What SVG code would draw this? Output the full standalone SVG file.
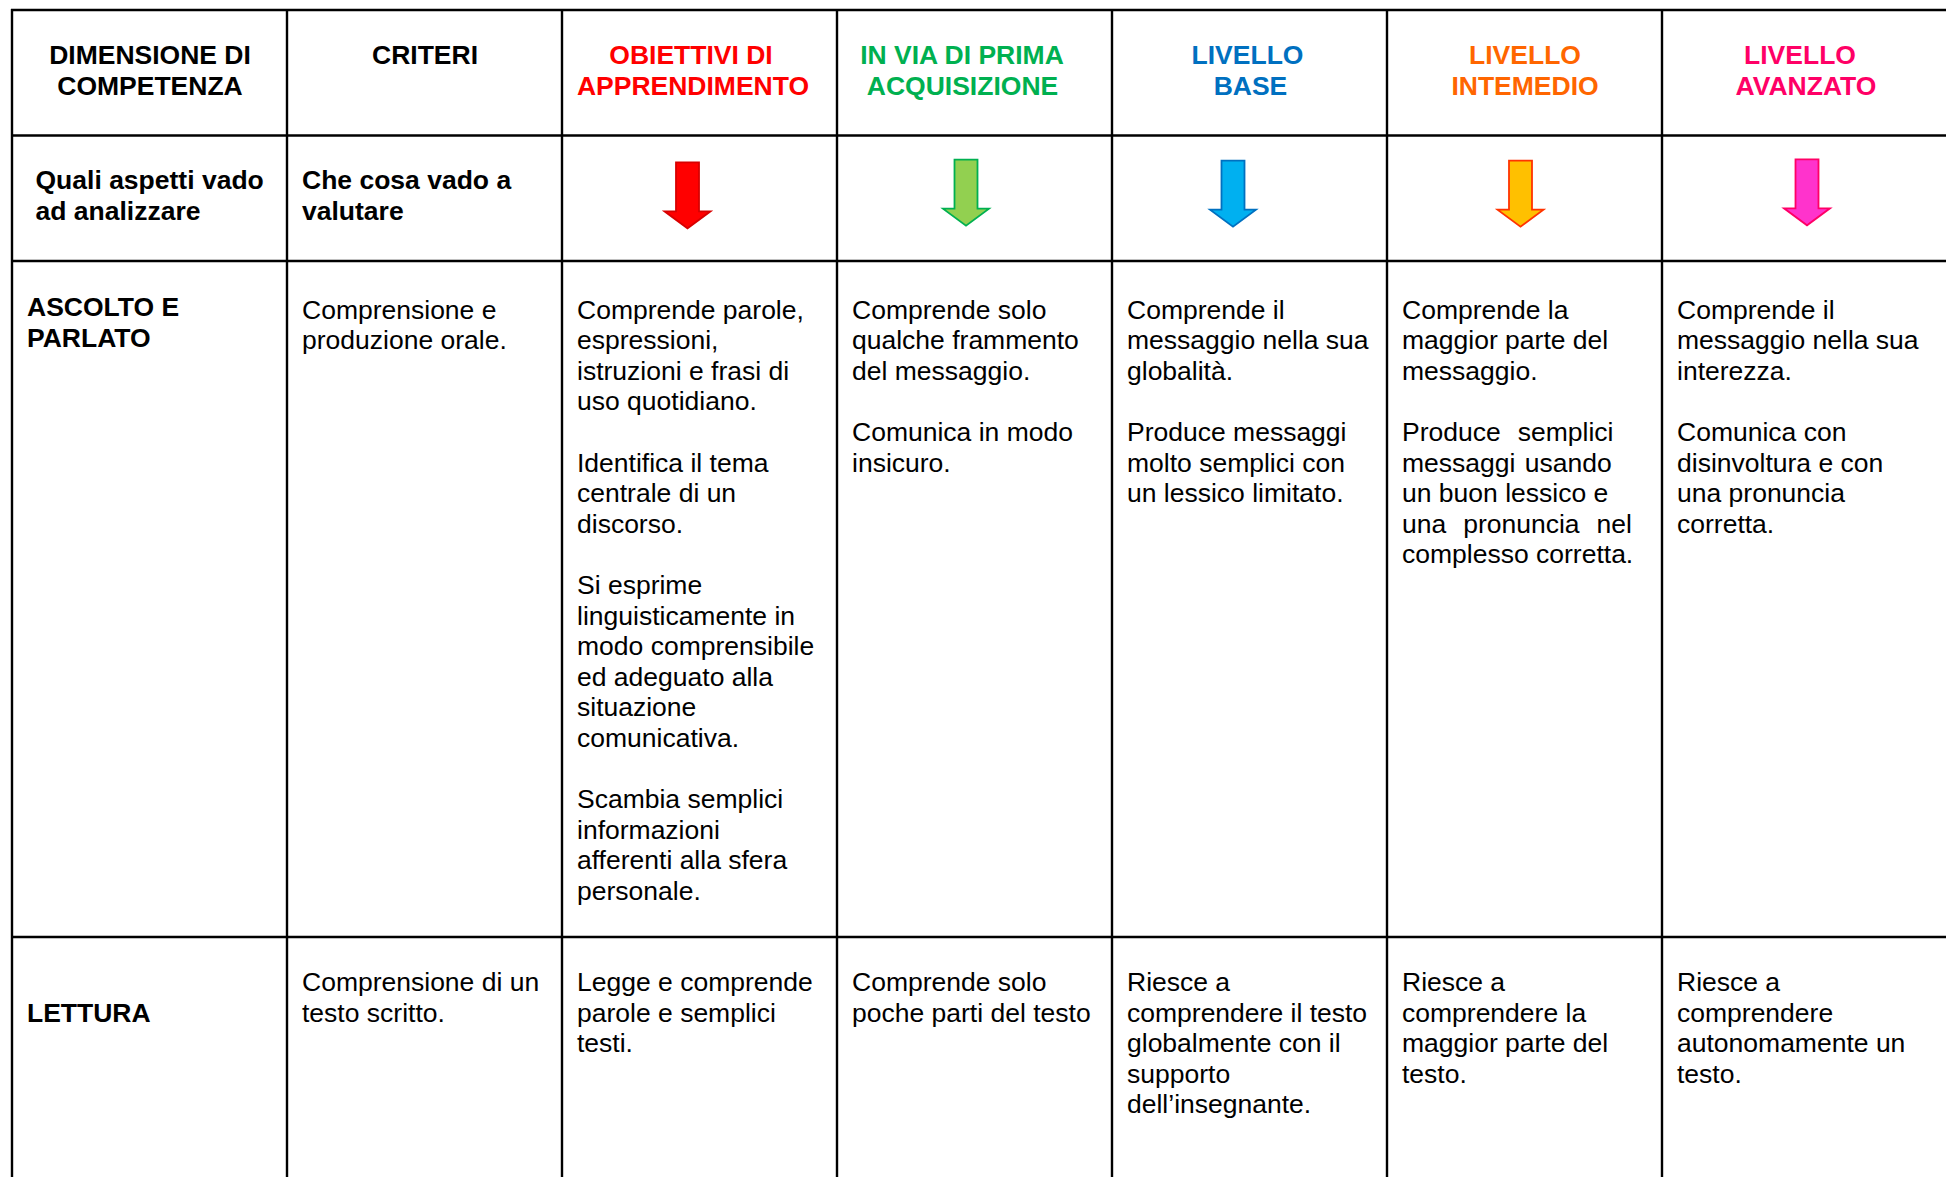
<svg xmlns="http://www.w3.org/2000/svg" width="1946" height="1177" viewBox="0 0 1946 1177">
<style>
text{font-family:"Liberation Sans",Arial,sans-serif;font-size:26.5px;fill:#000}
.b{font-weight:bold}
.h{font-weight:bold;text-anchor:middle}
.grid line{stroke:#000;stroke-width:2.4}
.red{fill:#FF0000}.grn{fill:#00B050}.blu{fill:#0070C0}.org{fill:#FF6600}.pnk{fill:#FF0066}
</style>
<defs>
<path id="arr" d="M-11.5 0H11.5V49H23L0 66L-23 49H-11.5Z" stroke-width="1.8" stroke-linejoin="miter"/>
</defs>
<rect width="1946" height="1177" fill="#fff"/>
<g id="grid" class="grid">
<line x1="11" y1="10" x2="1946" y2="10"/>
<line x1="11" y1="135.5" x2="1946" y2="135.5"/>
<line x1="11" y1="261" x2="1946" y2="261"/>
<line x1="11" y1="937" x2="1946" y2="937"/>
<line x1="12" y1="9" x2="12" y2="1177"/>
<line x1="287" y1="9" x2="287" y2="1177"/>
<line x1="562" y1="9" x2="562" y2="1177"/>
<line x1="837" y1="9" x2="837" y2="1177"/>
<line x1="1112" y1="9" x2="1112" y2="1177"/>
<line x1="1387" y1="9" x2="1387" y2="1177"/>
<line x1="1662" y1="9" x2="1662" y2="1177"/>
</g>
<g id="h-dimensione"><text class="h" x="150" y="64">DIMENSIONE DI</text><text class="h" x="150" y="95">COMPETENZA</text></g>
<g id="h-criteri"><text class="h" x="425" y="64">CRITERI</text></g>
<g id="h-obiettivi"><text class="h red" x="691" y="64">OBIETTIVI DI</text><text class="h red" x="693" y="95">APPRENDIMENTO</text></g>
<g id="h-prima"><text class="h grn" x="962" y="64">IN VIA DI PRIMA</text><text class="h grn" x="962.5" y="95">ACQUISIZIONE</text></g>
<g id="h-base"><text class="h blu" x="1247.5" y="64">LIVELLO</text><text class="h blu" x="1250.5" y="95">BASE</text></g>
<g id="h-intermedio"><text class="h org" x="1525" y="64">LIVELLO</text><text class="h org" x="1525" y="95">INTEMEDIO</text></g>
<g id="h-avanzato"><text class="h pnk" x="1800" y="64">LIVELLO</text><text class="h pnk" x="1806" y="95">AVANZATO</text></g>

<g id="r2-aspetti"><text class="b" x="35.5" y="189">Quali aspetti vado</text><text class="b" x="35.5" y="220">ad analizzare</text></g>
<g id="r2-valutare"><text class="b" x="302" y="189">Che cosa vado a</text><text class="b" x="302" y="220">valutare</text></g>
<g id="arrow-red"><use href="#arr" transform="translate(687.5,162.3)" fill="#FF0000" stroke="#D80000"/></g>
<g id="arrow-green"><use href="#arr" transform="translate(966,159.6)" fill="#92D050" stroke="#00B050"/></g>
<g id="arrow-blue"><use href="#arr" transform="translate(1233,160.7)" fill="#00B0F0" stroke="#0070C0"/></g>
<g id="arrow-orange"><use href="#arr" transform="translate(1520.5,160.7)" fill="#FFC000" stroke="#FF3300"/></g>
<g id="arrow-pink"><use href="#arr" transform="translate(1807,159.3)" fill="#FF33CC" stroke="#FF0066"/></g>

<g id="r3-dimensione"><text class="b" x="27" y="316">ASCOLTO E</text><text class="b" x="27" y="346.6">PARLATO</text></g>
<g transform="translate(0,2.5)">
<g id="r3-criteri"><text x="302" y="316">Comprensione e</text><text x="302" y="346.6">produzione orale.</text></g>
<g id="r3-obiettivi">
<text x="577" y="316">Comprende parole,</text>
<text x="577" y="346.6">espressioni,</text>
<text x="577" y="377.2">istruzioni e frasi di</text>
<text x="577" y="407.8">uso quotidiano.</text>
<text x="577" y="469">Identifica il tema</text>
<text x="577" y="499.6">centrale di un</text>
<text x="577" y="530.2">discorso.</text>
<text x="577" y="591.4">Si esprime</text>
<text x="577" y="622">linguisticamente in</text>
<text x="577" y="652.6">modo comprensibile</text>
<text x="577" y="683.2">ed adeguato alla</text>
<text x="577" y="713.8">situazione</text>
<text x="577" y="744.4">comunicativa.</text>
<text x="577" y="805.6">Scambia semplici</text>
<text x="577" y="836.2">informazioni</text>
<text x="577" y="866.8">afferenti alla sfera</text>
<text x="577" y="897.4">personale.</text>
</g>
<g id="r3-prima">
<text x="852" y="316">Comprende solo</text>
<text x="852" y="346.6">qualche frammento</text>
<text x="852" y="377.2">del messaggio.</text>
<text x="852" y="438.4">Comunica in modo</text>
<text x="852" y="469">insicuro.</text>
</g>
<g id="r3-base">
<text x="1127" y="316">Comprende il</text>
<text x="1127" y="346.6">messaggio nella sua</text>
<text x="1127" y="377.2">globalità.</text>
<text x="1127" y="438.4">Produce messaggi</text>
<text x="1127" y="469">molto semplici con</text>
<text x="1127" y="499.6">un lessico limitato.</text>
</g>
<g id="r3-intermedio">
<text x="1402" y="316">Comprende la</text>
<text x="1402" y="346.6">maggior parte del</text>
<text x="1402" y="377.2">messaggio.</text>
<text y="438.4"><tspan x="1402">Produce</tspan><tspan x="1517.7">semplici</tspan></text>
<text y="469"><tspan x="1402">messaggi</tspan><tspan x="1524.8">usando</tspan></text>
<text x="1402" y="499.6">un buon lessico e</text>
<text y="530.2"><tspan x="1402">una</tspan><tspan x="1463.2">pronuncia</tspan><tspan x="1596.6">nel</tspan></text>
<text x="1402" y="560.8">complesso corretta.</text>
</g>
<g id="r3-avanzato">
<text x="1677" y="316">Comprende il</text>
<text x="1677" y="346.6">messaggio nella sua</text>
<text x="1677" y="377.2">interezza.</text>
<text x="1677" y="438.4">Comunica con</text>
<text x="1677" y="469">disinvoltura e con</text>
<text x="1677" y="499.6">una pronuncia</text>
<text x="1677" y="530.2">corretta.</text>
</g>
</g>

<g id="r4-dimensione"><text class="b" x="27" y="1021.6">LETTURA</text></g>
<g id="r4-criteri"><text x="302" y="991">Comprensione di un</text><text x="302" y="1021.6">testo scritto.</text></g>
<g id="r4-obiettivi"><text x="577" y="991">Legge e comprende</text><text x="577" y="1021.6">parole e semplici</text><text x="577" y="1052.2">testi.</text></g>
<g id="r4-prima"><text x="852" y="991">Comprende solo</text><text x="852" y="1021.6">poche parti del testo</text></g>
<g id="r4-base"><text x="1127" y="991">Riesce a</text><text x="1127" y="1021.6">comprendere il testo</text><text x="1127" y="1052.2">globalmente con il</text><text x="1127" y="1082.8">supporto</text><text x="1127" y="1113.4">dell’insegnante.</text></g>
<g id="r4-intermedio"><text x="1402" y="991">Riesce a</text><text x="1402" y="1021.6">comprendere la</text><text x="1402" y="1052.2">maggior parte del</text><text x="1402" y="1082.8">testo.</text></g>
<g id="r4-avanzato"><text x="1677" y="991">Riesce a</text><text x="1677" y="1021.6">comprendere</text><text x="1677" y="1052.2">autonomamente un</text><text x="1677" y="1082.8">testo.</text></g>
</svg>
